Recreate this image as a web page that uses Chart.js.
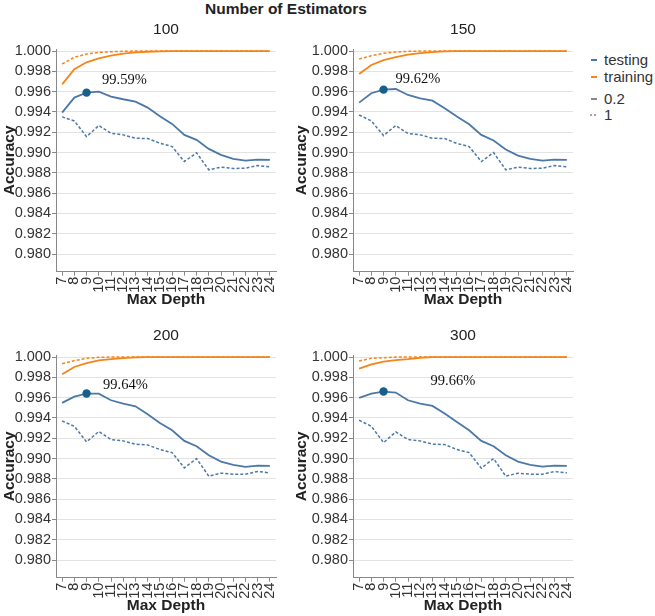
<!DOCTYPE html>
<html><head><meta charset="utf-8">
<script src="https://cdn.jsdelivr.net/npm/chart.js@4"></script>
<style>
html,body{margin:0;padding:0;background:#fff;}
body{width:655px;height:616px;position:relative;overflow:hidden;font-family:"Liberation Sans",Arial,sans-serif;}
canvas{position:absolute;}
.txt{position:absolute;white-space:nowrap;color:#222;}
.leg{position:absolute;left:604px;font-size:15px;line-height:18px;color:#333;white-space:nowrap;}
.sym{position:absolute;left:589px;}
</style></head><body>
<div class="txt" style="left:0;width:572px;top:0;text-align:center;font-weight:bold;font-size:15.5px;line-height:17px;">Number of Estimators</div>
<canvas id="c100" width="290" height="310" style="left:0;top:0;"></canvas>
<canvas id="c150" width="295" height="310" style="left:292px;top:0;"></canvas>
<canvas id="c200" width="290" height="310" style="left:0;top:306px;"></canvas>
<canvas id="c300" width="295" height="310" style="left:292px;top:306px;"></canvas>

<svg class="sym" style="top:55px" width="10" height="10"><line x1="2" y1="5" x2="8" y2="5" stroke="#4c78a8" stroke-width="2"/></svg>
<div class="leg" style="top:51px">testing</div>
<svg class="sym" style="top:72px" width="10" height="10"><line x1="2" y1="5" x2="8" y2="5" stroke="#f58518" stroke-width="2"/></svg>
<div class="leg" style="top:68px">training</div>
<svg class="sym" style="top:94px" width="10" height="10"><line x1="2" y1="5" x2="8" y2="5" stroke="#888" stroke-width="2"/></svg>
<div class="leg" style="top:90px">0.2</div>
<svg class="sym" style="top:110px" width="10" height="10"><line x1="1" y1="5" x2="9" y2="5" stroke="#888" stroke-width="1.6" stroke-dasharray="2,2"/></svg>
<div class="leg" style="top:106px">1</div>

<script>
// ---- data ----
const depths = ['7','8','9','10','11','12','13','14','15','16','17','18','19','20','21','22','23','24'];
const estimators = ['100','150','200','300'];
const yTicks = [0.980,0.982,0.984,0.986,0.988,0.990,0.992,0.994,0.996,0.998,1.000];
const peakDepth = '9';

const testing02_100 = [0.99393,0.99541,0.99590,0.99600,0.99551,0.99525,0.99502,0.99443,0.99357,0.99282,0.99174,0.99125,0.99036,0.98977,0.98938,0.98921,0.98931,0.98928];
const testing1_100  = [0.99351,0.99311,0.99157,0.99266,0.99190,0.99174,0.99141,0.99138,0.99092,0.99059,0.98911,0.98997,0.98830,0.98856,0.98843,0.98846,0.98872,0.98859];
const training02_100 = [0.99672,0.99820,0.99889,0.99928,0.99954,0.99974,0.99987,0.99993,0.99997,1,1,1,1,1,1,1,1,1];
const training1_100  = [0.99872,0.99938,0.99970,0.99987,0.99993,0.99997,1,1,1,1,1,1,1,1,1,1,1,1];

const testing02_150 = [0.99492,0.99584,0.99620,0.99626,0.99567,0.99534,0.99511,0.99436,0.99354,0.99279,0.99174,0.99118,0.99030,0.98970,0.98938,0.98921,0.98931,0.98928];
const testing1_150  = [0.99370,0.99311,0.99167,0.99266,0.99187,0.99174,0.99141,0.99138,0.99089,0.99059,0.98911,0.99000,0.98830,0.98856,0.98843,0.98846,0.98872,0.98859];
const training02_150 = [0.99774,0.99862,0.99911,0.99941,0.99964,0.99980,0.99990,0.99996,1,1,1,1,1,1,1,1,1,1];
const training1_150  = [0.99921,0.99954,0.99977,0.99990,0.99997,1,1,1,1,1,1,1,1,1,1,1,1,1];

const testing02_200 = [0.99548,0.99610,0.99640,0.99639,0.99574,0.99541,0.99515,0.99436,0.99351,0.99279,0.99174,0.99121,0.99033,0.98970,0.98938,0.98918,0.98931,0.98928];
const testing1_200  = [0.99370,0.99318,0.99164,0.99266,0.99187,0.99174,0.99141,0.99134,0.99089,0.99059,0.98908,0.99000,0.98826,0.98856,0.98846,0.98846,0.98872,0.98859];
const training02_200 = [0.99830,0.99902,0.99941,0.99967,0.99980,0.99990,0.99996,1,1,1,1,1,1,1,1,1,1,1];
const training1_200  = [0.99934,0.99964,0.99987,0.99997,1,1,1,1,1,1,1,1,1,1,1,1,1,1];

const testing02_300 = [0.99597,0.99639,0.99660,0.99650,0.99574,0.99541,0.99518,0.99443,0.99361,0.99279,0.99174,0.99121,0.99033,0.98970,0.98938,0.98921,0.98931,0.98928];
const testing1_300  = [0.99377,0.99318,0.99157,0.99262,0.99187,0.99174,0.99141,0.99138,0.99089,0.99059,0.98905,0.99000,0.98826,0.98856,0.98846,0.98846,0.98872,0.98859];
const training02_300 = [0.99885,0.99928,0.99954,0.99970,0.99980,0.99993,1,1,1,1,1,1,1,1,1,1,1,1];
const training1_300  = [0.99961,0.99987,0.99993,1,1,1,1,1,1,1,1,1,1,1,1,1,1,1];

// ---- style ----
const FONT = '"Liberation Sans", Arial, sans-serif';
const BLUE = '#4c78a8', ORANGE = '#f58518', DOT = '#17608c';
const Y_MIN = 0.97826, Y_MAX = 1.0002;

const notePlugin = {
  id: 'note',
  afterDatasetsDraw(chart, args, opts) {
    const pi = depths.indexOf(peakDepth);
    const el = chart.getDatasetMeta(0).data[pi];
    const v = chart.data.datasets[0].data[pi];
    const ctx = chart.ctx;
    ctx.save();
    ctx.font = '14.5px "Liberation Serif", "Times New Roman", serif';
    ctx.fillStyle = '#111';
    ctx.textBaseline = 'middle';
    ctx.textAlign = 'left';
    ctx.fillText((v * 100).toFixed(2) + '%', el.x + opts.dx, el.y + opts.dy);
    ctx.restore();
  }
};

function makeChart(id, title, t02, t1, tr02, tr1, yAxisWidth, note) {
  const pi = depths.indexOf(peakDepth);
  const peak = depths.map((d, i) => i === pi ? t02[i] : null);
  new Chart(document.getElementById(id), {
    type: 'line',
    data: {
      labels: depths,
      datasets: [
        {label: 'peak', data: peak, showLine: false, pointRadius: 4.2, pointBackgroundColor: DOT, pointBorderColor: DOT, pointBorderWidth: 0},
        {label: 'testing 0.2', data: t02, borderColor: BLUE, borderWidth: 1.8, pointRadius: 0, tension: 0},
        {label: 'testing 1', data: t1, borderColor: BLUE, borderWidth: 1.5, borderDash: [3, 2], pointRadius: 0, tension: 0},
        {label: 'training 0.2', data: tr02, borderColor: ORANGE, borderWidth: 1.8, pointRadius: 0, tension: 0},
        {label: 'training 1', data: tr1, borderColor: ORANGE, borderWidth: 1.5, borderDash: [3, 2], pointRadius: 0, tension: 0}
      ]
    },
    options: {
      responsive: false, animation: false, devicePixelRatio: 1,
      layout: {padding: {left: 0, top: 0, right: 14, bottom: 0}},
      plugins: {
        legend: {display: false}, tooltip: {enabled: false},
        title: {display: true, text: title, fullSize: false, color: '#222',
                font: {size: 15.5, family: FONT, weight: 'normal'}, padding: {top: 20.7, bottom: 9.7}},
        note: note
      },
      scales: {
        x: {
          type: 'category', offset: true,
          grid: {drawOnChartArea: false, drawTicks: true, tickLength: 4, tickColor: '#888', offset: false},
          border: {color: '#888'},
          ticks: {autoSkip: false, minRotation: 90, maxRotation: 90, padding: 1, color: '#333', font: {size: 14.5, family: FONT}},
          title: {display: true, text: 'Max Depth', color: '#222', font: {size: 15.5, weight: 'bold', family: FONT}, padding: {top: 0, bottom: 0.5}},
          afterFit(s) { s.height = 38.3; }
        },
        y: {
          min: Y_MIN, max: Y_MAX,
          afterBuildTicks(s) { s.ticks = yTicks.map(v => ({value: v})); },
          ticks: {callback: v => Number(v).toFixed(3), padding: 1, color: '#333', font: {size: 14.5, family: FONT}},
          grid: {color: '#e3e3e3', tickLength: 4, tickColor: '#888'},
          border: {color: '#888'},
          title: {display: true, text: 'Accuracy', color: '#222', font: {size: 15.5, weight: 'bold', family: FONT}, padding: {top: 0, bottom: 0}},
          afterFit(s) { s.width = yAxisWidth; }
        }
      }
    },
    plugins: [notePlugin]
  });
}

makeChart('c100', estimators[0], testing02_100, testing1_100, training02_100, training1_100, 56, {dx: 15.5, dy: -12.5});
makeChart('c150', estimators[1], testing02_150, testing1_150, training02_150, training1_150, 61, {dx: 12, dy: -10});
makeChart('c200', estimators[2], testing02_200, testing1_200, training02_200, training1_200, 56, {dx: 16.5, dy: -8.5});
makeChart('c300', estimators[3], testing02_300, testing1_300, training02_300, training1_300, 61, {dx: 47, dy: -10.5});
</script>
</body></html>
